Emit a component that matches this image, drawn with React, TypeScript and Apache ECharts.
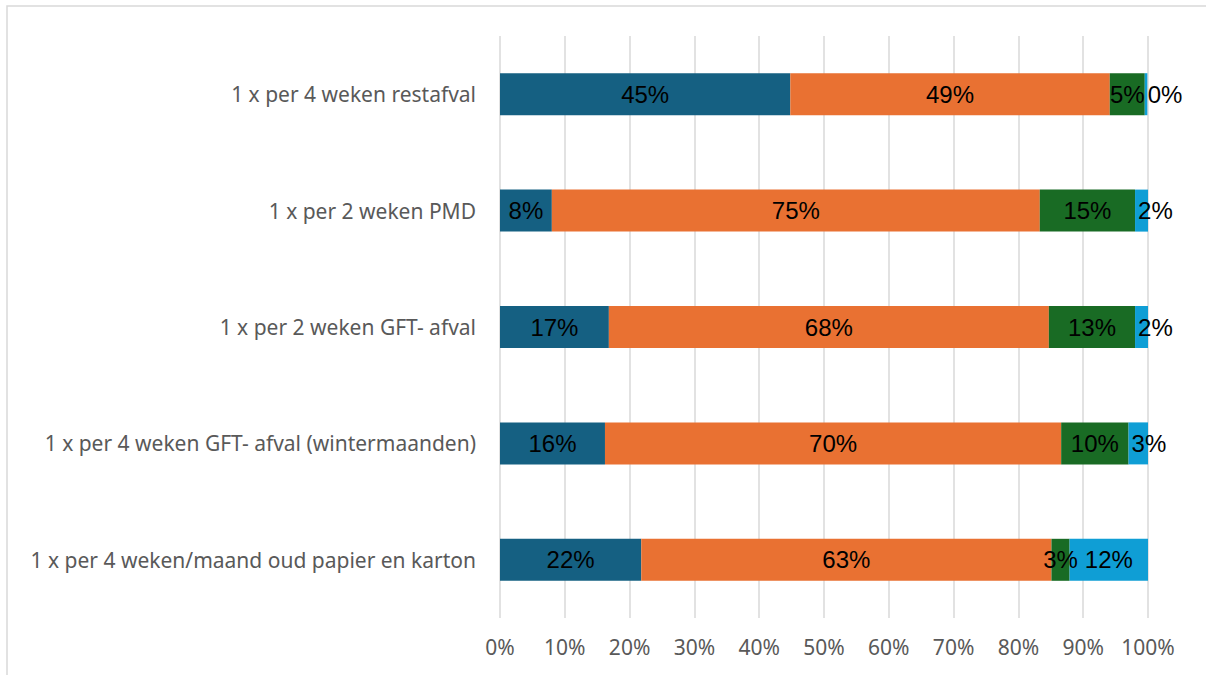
import React, { useEffect, useRef } from "react";
import * as echarts from "echarts";

const categories = [
  "1 x per 4 weken restafval",
  "1 x per 2 weken PMD",
  "1 x per 2 weken GFT- afval",
  "1 x per 4 weken GFT- afval (wintermaanden)",
  "1 x per 4 weken/maand oud papier en karton",
];
const seriesNames = ["Serie 1", "Serie 2", "Serie 3", "Serie 4"];
const serie1 = [44.8, 8.0, 16.8, 16.2, 21.8];
const serie2 = [49.3, 75.3, 67.9, 70.4, 63.3];
const serie3 = [5.4, 14.7, 13.3, 10.4, 2.8];
const serie4 = [0.4, 2.0, 2.0, 3.0, 12.1];
const colors = ["#156082", "#E97132", "#196B24", "#0F9ED5"];
const tickValues = [0, 10, 20, 30, 40, 50, 60, 70, 80, 90, 100];

export default function App() {
  const ref = useRef<HTMLDivElement>(null);
  useEffect(() => {
    if (!ref.current) return;
    const chart = echarts.init(ref.current, undefined, { renderer: "svg" });
    const all = [serie1, serie2, serie3, serie4];
    const labelFont = "Liberation Sans";
    const axisFont = "Noto Sans";
    const series = all.map((vals, si) => ({
      name: seriesNames[si],
      type: "bar",
      stack: "total",
      barWidth: 42,
      itemStyle: { color: colors[si] },
      label: {
        show: true,
        position: "inside",
        color: "#000",
        fontSize: 24,
        fontFamily: labelFont,
        formatter: (p: any) => Math.round(p.value) + "%",
      },
      data: vals.map((v) =>
        si === 3 && v < 5
          ? { value: v, label: { position: "insideLeft", distance: 3 } }
          : v
      ),
    }));
    chart.setOption({
      animation: false,
      grid: { left: 500, right: 58, top: 36, bottom: 57, containLabel: false },
      graphic: [
        {
          type: "rect",
          shape: { x: 7, y: 6, width: 1400, height: 900 },
          style: { fill: "none", stroke: "#d9d9d9", lineWidth: 1.5 },
          silent: true,
          z: -10,
        },
      ],
      xAxis: {
        type: "value",
        min: tickValues[0],
        max: tickValues[tickValues.length - 1],
        interval: 10,
        axisLine: { show: false },
        axisTick: { show: false },
        splitLine: { show: true, lineStyle: { color: "#d9d9d9", width: 1.5 } },
        axisLabel: {
          formatter: "{value}%",
          color: "#595959",
          fontSize: 21,
          fontFamily: axisFont,
          margin: 18,
        },
      },
      yAxis: {
        type: "category",
        data: categories,
        inverse: true,
        axisLine: { show: false },
        axisTick: { show: false },
        axisLabel: {
          color: "#595959",
          fontSize: 21,
          fontFamily: axisFont,
          margin: 24,
        },
      },
      series,
    });
    return () => chart.dispose();
  }, []);
  return (
    <div
      ref={ref}
      style={{ position: "absolute", left: 0, top: 0, width: 1206, height: 675, background: "#fff" }}
    />
  );
}
